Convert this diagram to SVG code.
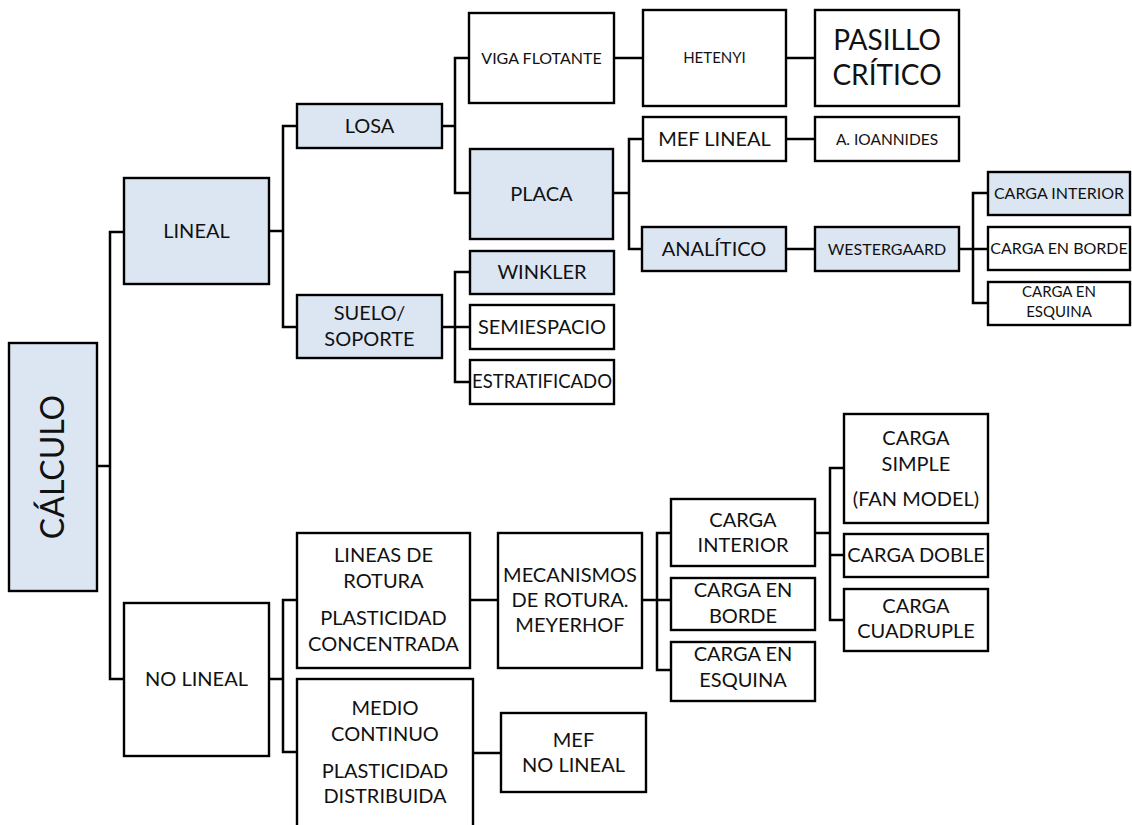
<svg xmlns="http://www.w3.org/2000/svg" width="1132" height="825" viewBox="0 0 1132 825">
  <style>
    .box { fill: #ffffff; stroke: #000000; stroke-width: 2.4; }
    .blue { fill: #dce6f2; }
    .links path { fill: none; stroke: #000000; stroke-width: 2.5; }
    text { font-family: Lato, "Open Sans", "Liberation Sans", sans-serif; fill: #111111; text-anchor: middle; }
    .f20 { font-size: 20px; }
    .f18 { font-size: 18.5px; }
    .f16 { font-size: 16px; }
    .f15 { font-size: 15px; }
    .f155 { font-size: 15.5px; }
    .f28 { font-size: 28px; }
    .f32 { font-size: 32px; }
  </style>

  <rect width="1132" height="825" fill="#ffffff"/>

  <!-- connectors -->
  <g class="links">
    <path d="M97,466 H110"/>
    <path d="M124,232 H110 V679 H124"/>
    <path d="M269,231 H283"/>
    <path d="M297,126 H283 V327 H297"/>
    <path d="M442,126 H455"/>
    <path d="M469,58 H455 V193 H470"/>
    <path d="M614,58 H643"/>
    <path d="M786,58 H815"/>
    <path d="M613,193 H629"/>
    <path d="M643,139 H629 V249 H642"/>
    <path d="M786,139 H815"/>
    <path d="M786,249 H815"/>
    <path d="M959,249 H988"/>
    <path d="M988,193 H973 V303 H988"/>
    <path d="M442,327 H470"/>
    <path d="M470,272 H455 V382 H470"/>
    <path d="M269,679 H283"/>
    <path d="M297,600 H283 V752 H297"/>
    <path d="M470,600 H498"/>
    <path d="M642,600 H671"/>
    <path d="M671,533 H657 V670 H671"/>
    <path d="M815,533 H830"/>
    <path d="M844,468 H830 V620 H844"/>
    <path d="M830,555 H844"/>
    <path d="M473,753 H501"/>
  </g>

  <!-- root -->
  <g id="calculo">
    <rect class="box blue" x="9" y="343" width="88" height="248"/>
    <text class="f32" transform="translate(64,467) rotate(-90)">CÁLCULO</text>
  </g>

  <!-- linear branch -->
  <g id="lineal">
    <rect class="box blue" x="124" y="178" width="145" height="106"/>
    <text class="f20" x="196.5" y="238">LINEAL</text>
  </g>
  <g id="losa">
    <rect class="box blue" x="297" y="104" width="145" height="44"/>
    <text class="f20" x="369.5" y="133">LOSA</text>
  </g>
  <g id="suelo-soporte">
    <rect class="box blue" x="297" y="295" width="145" height="63"/>
    <text class="f20" x="369.5" y="320">SUELO/</text>
    <text class="f20" x="369.5" y="346">SOPORTE</text>
  </g>
  <g id="viga-flotante">
    <rect class="box" x="469" y="13" width="145" height="90"/>
    <text class="f16" x="541.5" y="64">VIGA FLOTANTE</text>
  </g>
  <g id="hetenyi">
    <rect class="box" x="643" y="10" width="143" height="96"/>
    <text class="f15" x="714.5" y="63">HETENYI</text>
  </g>
  <g id="pasillo-critico">
    <rect class="box" x="815" y="10" width="144" height="96"/>
    <text class="f28" x="887" y="50">PASILLO</text>
    <text class="f28" x="887" y="85">CRÍTICO</text>
  </g>
  <g id="placa">
    <rect class="box blue" x="470" y="149" width="143" height="90"/>
    <text class="f20" x="541.5" y="201">PLACA</text>
  </g>
  <g id="mef-lineal">
    <rect class="box" x="643" y="117" width="143" height="44"/>
    <text class="f20" x="714.5" y="146">MEF LINEAL</text>
  </g>
  <g id="ioannides">
    <rect class="box" x="815" y="117" width="144" height="44"/>
    <text class="f155" x="887" y="145">A. IOANNIDES</text>
  </g>
  <g id="analitico">
    <rect class="box blue" x="642" y="227" width="144" height="44"/>
    <text class="f20" x="714" y="256">ANALÍTICO</text>
  </g>
  <g id="westergaard">
    <rect class="box blue" x="815" y="227" width="144" height="44"/>
    <text class="f16" x="887" y="255">WESTERGAARD</text>
  </g>
  <g id="carga-interior-w">
    <rect class="box blue" x="988" y="172" width="142" height="43"/>
    <text class="f16" x="1059" y="199">CARGA INTERIOR</text>
  </g>
  <g id="carga-borde-w">
    <rect class="box" x="988" y="227" width="142" height="43"/>
    <text class="f16" x="1059" y="254">CARGA EN BORDE</text>
  </g>
  <g id="carga-esquina-w">
    <rect class="box" x="988" y="282" width="142" height="43"/>
    <text class="f15" x="1059" y="297">CARGA EN</text>
    <text class="f15" x="1059" y="317">ESQUINA</text>
  </g>
  <g id="winkler">
    <rect class="box blue" x="470" y="251" width="144" height="43"/>
    <text class="f20" x="542" y="279">WINKLER</text>
  </g>
  <g id="semiespacio">
    <rect class="box" x="470" y="305" width="144" height="44"/>
    <text class="f20" x="542" y="334">SEMIESPACIO</text>
  </g>
  <g id="estratificado">
    <rect class="box" x="470" y="360" width="144" height="44"/>
    <text class="f18" x="542" y="388">ESTRATIFICADO</text>
  </g>

  <!-- non-linear branch -->
  <g id="no-lineal">
    <rect class="box" x="124" y="603" width="145" height="153"/>
    <text class="f20" x="196.5" y="686">NO LINEAL</text>
  </g>
  <g id="lineas-rotura">
    <rect class="box" x="297" y="533" width="173" height="135"/>
    <text class="f20" x="383.5" y="562">LINEAS DE</text>
    <text class="f20" x="383.5" y="588">ROTURA</text>
    <text class="f20" x="383.5" y="625">PLASTICIDAD</text>
    <text class="f20" x="383.5" y="651">CONCENTRADA</text>
  </g>
  <g id="medio-continuo">
    <rect class="box" x="297" y="679" width="176" height="170"/>
    <text class="f20" x="385" y="715">MEDIO</text>
    <text class="f20" x="385" y="741">CONTINUO</text>
    <text class="f20" x="385" y="778">PLASTICIDAD</text>
    <text class="f20" x="385" y="803">DISTRIBUIDA</text>
  </g>
  <g id="mecanismos">
    <rect class="box" x="498" y="533" width="144" height="135"/>
    <text class="f20" x="570" y="582">MECANISMOS</text>
    <text class="f20" x="570" y="607">DE ROTURA.</text>
    <text class="f20" x="570" y="632">MEYERHOF</text>
  </g>
  <g id="mef-no-lineal">
    <rect class="box" x="501" y="713" width="145" height="79"/>
    <text class="f20" x="573.5" y="747">MEF</text>
    <text class="f20" x="573.5" y="772">NO LINEAL</text>
  </g>
  <g id="carga-interior-m">
    <rect class="box" x="671" y="499" width="144" height="67"/>
    <text class="f20" x="743" y="527">CARGA</text>
    <text class="f20" x="743" y="552">INTERIOR</text>
  </g>
  <g id="carga-borde-m">
    <rect class="box" x="671" y="578" width="144" height="52"/>
    <text class="f20" x="743" y="597">CARGA EN</text>
    <text class="f20" x="743" y="623">BORDE</text>
  </g>
  <g id="carga-esquina-m">
    <rect class="box" x="671" y="642" width="144" height="59"/>
    <text class="f20" x="743" y="661">CARGA EN</text>
    <text class="f20" x="743" y="687">ESQUINA</text>
  </g>
  <g id="carga-simple">
    <rect class="box" x="844" y="414" width="144" height="109"/>
    <text class="f20" x="916" y="445">CARGA</text>
    <text class="f20" x="916" y="471">SIMPLE</text>
    <text class="f20" x="916" y="506">(FAN MODEL)</text>
  </g>
  <g id="carga-doble">
    <rect class="box" x="844" y="534" width="144" height="43"/>
    <text class="f20" x="916" y="562">CARGA DOBLE</text>
  </g>
  <g id="carga-cuadruple">
    <rect class="box" x="844" y="589" width="144" height="62"/>
    <text class="f20" x="916" y="613">CARGA</text>
    <text class="f20" x="916" y="638">CUADRUPLE</text>
  </g>
</svg>
